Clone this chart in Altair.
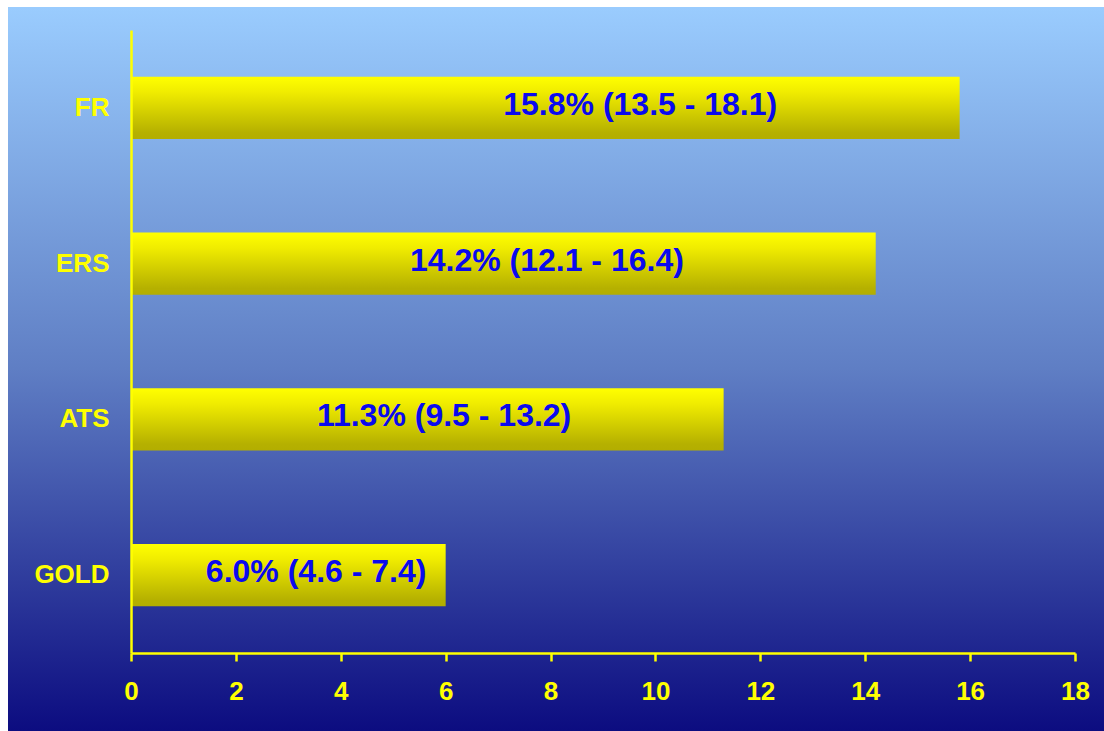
import altair as alt
import pandas as pd

categories = ["FR", "ERS", "ATS", "GOLD"]
values = [15.8, 14.2, 11.3, 6.0]
labels = ["15.8% (13.5 - 18.1)", "14.2% (12.1 - 16.4)", "11.3% (9.5 - 13.2)", "6.0% (4.6 - 7.4)"]
label_x = [9.71, 7.93, 5.97, 3.53]
x_ticks = [0, 2, 4, 6, 8, 10, 12, 14, 16, 18]

df = pd.DataFrame({"cat": categories, "value": values, "label": labels, "label_x": label_x})

W, H = 944, 623
FONT = "Liberation Sans"
YEL = "#FFFF00"

bg = alt.Chart(pd.DataFrame({"a": [0]})).mark_rect(
    fill=alt.Gradient(
        gradient="linear", x1=0, y1=0, x2=0, y2=1,
        stops=[alt.GradientStop(color="#9ACCFE", offset=0),
               alt.GradientStop(color="#5F7EC4", offset=0.5),
               alt.GradientStop(color="#0C0C80", offset=1)],
    ),
    strokeWidth=0,
).encode(x=alt.value(-123), x2=alt.value(973), y=alt.value(-23), y2=alt.value(701))

y_enc = alt.Y(
    "cat:N", sort=categories,
    scale=alt.Scale(paddingInner=0.6, paddingOuter=0.3),
    axis=alt.Axis(title=None, labelColor=YEL, labelFont=FONT, labelFontWeight="bold",
                  labelFontSize=26, ticks=False, tickSize=0, labelPadding=22,
                  domainColor=YEL, domainWidth=2.5, grid=False, zindex=2),
)

bars = alt.Chart(df).mark_bar(
    fill=alt.Gradient(
        gradient="linear", x1=0, y1=0, x2=0, y2=1,
        stops=[alt.GradientStop(color="#FFFF00", offset=0),
               alt.GradientStop(color="#F0EC00", offset=0.25),
               alt.GradientStop(color="#B5B000", offset=0.9),
               alt.GradientStop(color="#B3AE00", offset=1)],
    ),
    strokeWidth=0,
).encode(
    x=alt.X("value:Q", scale=alt.Scale(domain=[0, 18], nice=False),
            axis=alt.Axis(title=None, values=x_ticks, grid=False, labelColor=YEL,
                          labelFont=FONT, labelFontWeight="bold", labelFontSize=26,
                          labelFlush=False, labelPadding=17, tickColor=YEL, tickSize=8,
                          tickWidth=2.5, domainColor=YEL, domainWidth=2.5, zindex=2)),
    y=y_enc,
)

text = alt.Chart(df).mark_text(
    font=FONT, fontWeight="bold", fontSize=32, color="#0A0AEE",
    align="center", baseline="middle", dy=-3,
).encode(
    x=alt.X("label_x:Q"),
    y=alt.Y("cat:N", sort=categories),
    text="label:N",
)

chart = alt.layer(bg, bars, text).properties(
    width=W, height=H,
    padding={"left": 131, "top": 30, "right": 29, "bottom": 78},
    autosize=alt.AutoSizeParams(type="none"),
    background="white",
).configure_view(stroke=None)

chart.save("out.html", embed_options={"renderer": "svg", "actions": False})
